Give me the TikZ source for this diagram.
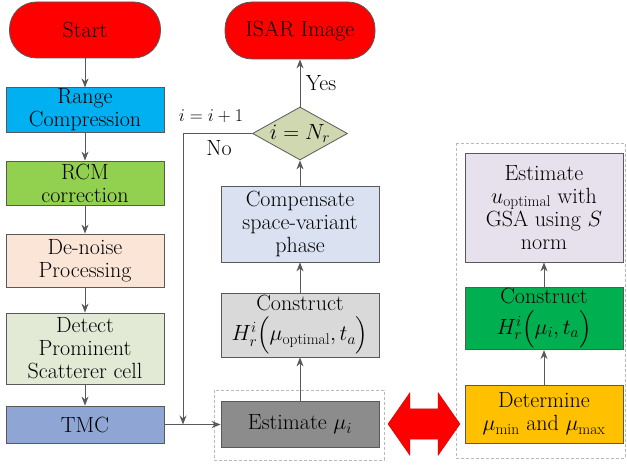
\documentclass[tikz,border=0pt]{standalone}
\usepackage{fix-cm}
\usepackage{amsmath}
\usepackage{fontspec}
\usetikzlibrary{arrows.meta,
	shapes.geometric,
	shapes.arrows,
	positioning}

\definecolor{linegray}{HTML}{595959}
\definecolor{startred}{HTML}{FF0000}
\definecolor{rangeblue}{HTML}{00B0F0}
\definecolor{rcmgreen}{HTML}{92D050}
\definecolor{noisepeach}{HTML}{FBE5D6}
\definecolor{detectgreen}{HTML}{E2EAD6}
\definecolor{tmcblue}{HTML}{8FA5D3}
\definecolor{decolive}{HTML}{CFD8B0}
\definecolor{compblue}{HTML}{DAE2F2}
\definecolor{constgray}{HTML}{D9D9D9}
\definecolor{estgray}{HTML}{8C8C8C}
\definecolor{gsalilac}{HTML}{E6E1EC}
\definecolor{constgreen}{HTML}{00B050}
\definecolor{detorange}{HTML}{FFC000}

\begin{document}
\begin{tikzpicture}[x=1pt, y=1pt,
        font=\fontsize{22}{23}\selectfont,
        box/.style={draw=linegray, line width=0.8pt, minimum width=158pt,
                    inner sep=1pt, align=center},
        term/.style={box, rounded corners=27pt, minimum width=151pt,
                     minimum height=56pt, fill=startred},
        flow/.style={draw=linegray, line width=1pt,
                     -{Stealth[length=9pt, width=7pt]}},
        group/.style={draw=gray!55, densely dashed, line width=0.5pt}]
            \useasboundingbox (0, 0) rectangle (627, 465);

            % left column
            \node[term] (start) at (85, 435) {Start};
            \node[box, fill=rangeblue, minimum height=44pt] (range) at (85, 355) {Range\\Compression};
            \node[box, fill=rcmgreen, minimum height=44pt] (rcm) at (85, 282) {RCM\\correction};
            \node[box, fill=noisepeach, minimum height=53pt] (noise) at (85, 204.5) {De-noise\\Processing};
            \node[box, fill=detectgreen, minimum height=71pt] (detect) at (85, 116.5) {Detect\\Prominent\\Scatterer cell};
            \node[box, fill=tmcblue, minimum height=37pt] (tmc) at (85, 40.5) {TMC};

            \draw[flow] (start) -- (range);
            \draw[flow] (range) -- (rcm);
            \draw[flow] (rcm) -- (noise);
            \draw[flow] (noise) -- (detect);
            \draw[flow] (detect) -- (tmc);

            % middle column
            \draw[group] (214, 75) rectangle (384, 5);
            \node[term, minimum width=150pt, minimum height=57pt] (isar) at (300, 434.5) {ISAR Image};
            \node[diamond, draw=linegray, line width=0.8pt, fill=decolive, aspect=1.8,
                  inner sep=0pt, minimum width=95pt, minimum height=53pt] (dec) at (300, 331.5) {$i=N_{r}$};
            \node[box, fill=compblue, minimum height=76pt] (comp) at (300, 241) {Compensate\\space-variant\\phase};
            \node[box, fill=constgray, minimum height=64pt] (const) at (300, 140) {Construct\\[4pt]$H_r^i\Bigl(\mu_{\text{optimal}},t_a\Bigr)$};
            \node[box, fill=estgray, minimum height=46pt] (est) at (300, 40.5) {Estimate $\mu_i$};

            \draw[flow] (tmc.east) -- (est.west);
            \draw[flow] (est) -- (const);
            \draw[flow] (const) -- (comp);
            \draw[flow] (comp) -- (dec);
            \draw[flow] (dec) -- node[right=2pt] (yes) {Yes} (isar);

            % loop back
            \coordinate (turn) at (183, 331.5);
            \draw[flow] (dec.west) -- (turn) -- (turn |- tmc.east);
            \node (incr) at (211, 349) {\fontsize{18}{18}\selectfont $i=i+1$};
            \node (no) at (219, 317) {No};

            % right column
            \draw[group] (456, 322) rectangle (625, 7);
            \node[box, fill=gsalilac, minimum height=109pt] (gsa) at (544, 257.5) {Estimate\\$u_{\text{optimal}}$ with\\GSA using $S$\\norm};
            \node[box, fill=constgreen, minimum height=59pt] (constb) at (544, 146.5) {Construct\\[4pt]$H_r^i\Bigl(\mu_i,t_a\Bigr)$};
            \node[box, fill=detorange, minimum height=58pt] (det) at (544, 51) {Determine\\$\mu_{\min}$ and $\mu_{\max}$};

            \draw[flow] (det) -- (constb);
            \draw[flow] (constb) -- (gsa);

            \node[double arrow, fill=red, draw=red!80!black, inner sep=0pt,
                  minimum height=72pt, double arrow tip angle=110,
                  double arrow head extend=16pt] (link) at (424, 41) {\rule{0pt}{30pt}};
        \end{tikzpicture}
\end{document}
